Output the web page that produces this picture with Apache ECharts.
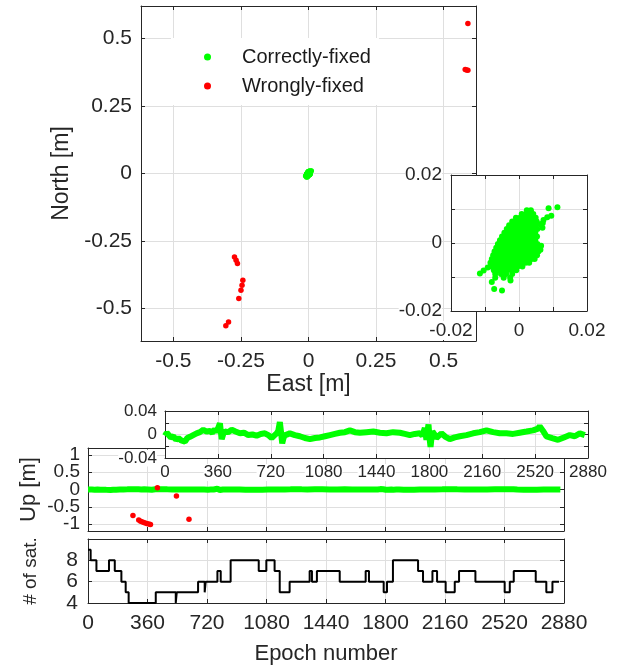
<!DOCTYPE html>
<html>
<head>
<meta charset="utf-8">
<script src="https://cdn.jsdelivr.net/npm/echarts@6/dist/echarts.min.js"></script>
<style>
  html, body { margin: 0; padding: 0; background: #fff; }
  #chart { width: 627px; height: 671px; }
</style>
</head>
<body>
<div id="chart"></div>
<script>
// East/North of correctly-fixed epochs, in millimetres
var greenEN_mm = [
  [2.3, 9.6], [3.5, 9.6],
  [0.8, 8.5], [2.1, 8.5], [3.4, 8.5], [4.2, 8.5],
  [-0.9, 7.4], [0.3, 7.4], [1.6, 7.4], [2.9, 7.4], [4.2, 7.4], [4.9, 7.4],
  [-2.0, 6.3], [-0.7, 6.3], [0.6, 6.3], [1.9, 6.3], [3.2, 6.3], [4.5, 6.3], [5.2, 6.3],
  [-2.9, 5.2], [-1.6, 5.2], [-0.3, 5.2], [1.0, 5.2], [2.3, 5.2], [3.6, 5.2], [4.9, 5.2],
  [-3.6, 4.1], [-2.3, 4.1], [-1.0, 4.1], [0.3, 4.1], [1.6, 4.1], [2.9, 4.1], [4.2, 4.1], [5.4, 4.1],
  [-4.3, 3.0], [-3.0, 3.0], [-1.7, 3.0], [-0.4, 3.0], [0.9, 3.0], [2.2, 3.0], [3.5, 3.0], [4.8, 3.0],
  [-5.0, 1.9], [-3.7, 1.9], [-2.4, 1.9], [-1.1, 1.9], [0.2, 1.9], [1.5, 1.9], [2.8, 1.9], [4.1, 1.9], [5.3, 1.9],
  [-5.6, 0.8], [-4.3, 0.8], [-3.0, 0.8], [-1.7, 0.8], [-0.4, 0.8], [0.9, 0.8], [2.2, 0.8], [3.5, 0.8], [4.8, 0.8],
  [-6.2, -0.3], [-4.9, -0.3], [-3.6, -0.3], [-2.3, -0.3], [-1.0, -0.3], [0.3, -0.3], [1.6, -0.3], [2.9, -0.3], [4.2, -0.3], [5.4, -0.3],
  [-6.7, -1.4], [-5.4, -1.4], [-4.1, -1.4], [-2.8, -1.4], [-1.5, -1.4], [-0.2, -1.4], [1.1, -1.4], [2.4, -1.4], [3.7, -1.4], [5.0, -1.4], [6.1, -1.4],
  [-7.2, -2.5], [-5.9, -2.5], [-4.6, -2.5], [-3.3, -2.5], [-2.0, -2.5], [-0.7, -2.5], [0.6, -2.5], [1.9, -2.5], [3.2, -2.5], [4.5, -2.5], [5.7, -2.5],
  [-7.6, -3.6], [-6.3, -3.6], [-5.0, -3.6], [-3.7, -3.6], [-2.4, -3.6], [-1.1, -3.6], [0.2, -3.6], [1.5, -3.6], [2.8, -3.6], [4.1, -3.6], [5.3, -3.6],
  [-8.0, -4.7], [-6.7, -4.7], [-5.4, -4.7], [-4.1, -4.7], [-2.8, -4.7], [-1.5, -4.7], [-0.2, -4.7], [1.1, -4.7], [2.4, -4.7], [3.7, -4.7], [4.6, -4.7],
  [-8.4, -5.8], [-7.1, -5.8], [-5.8, -5.8], [-4.5, -5.8], [-3.2, -5.8], [-1.9, -5.8], [-0.6, -5.8], [0.7, -5.8], [2.0, -5.8], [3.0, -5.8],
  [-8.2, -6.9], [-6.9, -6.9], [-5.6, -6.9], [-4.3, -6.9], [-3.0, -6.9], [-1.7, -6.9], [-0.4, -6.9], [1.0, -6.9],
  [-7.4, -8.0], [-6.1, -8.0], [-4.8, -8.0], [-3.5, -8.0], [-2.2, -8.0], [-0.8, -8.0],
  [-7.0, -9.1], [-5.3, -9.1], [-3.8, -9.1], [-2.0, -9.1],
  [-7.0, -10.2], [-4.5, -10.2], [-2.6, -10.2],
  [-8.0, -11.5], [-7.3, -13.5], [-5.0, -14.0], [-11.5, -9.0], [-10.4, -8.1], [-9.2, -7.2], [-2.5, -11.0],
  [8.7, 10.2], [11.3, 10.5], [9.5, 8.0], [8.3, 7.6], [7.2, 6.8], [7.0, 5.9], [6.9, 4.5], [6.2, 5.5], [6.3, -2.0], [6.5, -0.8]
];

// wrongly-fixed positions [m]
var redEast = [0.590, 0.580, 0.585, 0.590, -0.274, -0.268, -0.263, -0.243, -0.246, -0.250, -0.258, -0.296, -0.306];
var redNorth = [0.555, 0.385, 0.383, 0.382, -0.309, -0.321, -0.333, -0.395, -0.414, -0.432, -0.463, -0.550, -0.564];

// Up component of correctly-fixed epochs [m]
var upEpoch = [0, 12, 23, 40, 57, 75, 91, 110, 136, 152, 170, 192, 215, 238, 261, 283, 306, 322, 340, 352,
  363, 374, 386, 397, 408, 430, 454, 480, 510, 538, 567, 595, 624, 652, 680, 703, 726, 743, 760, 771,
  782, 790, 798, 807, 816, 832, 850, 884, 918, 952, 987, 1021, 1055, 1089, 1123, 1157, 1191, 1225, 1259, 1293,
  1327, 1372, 1418, 1463, 1508, 1553, 1599, 1633, 1667, 1701, 1735, 1752, 1769, 1780, 1787, 1794, 1801, 1808, 1815, 1821,
  1835, 1848, 1865, 1882, 1910, 1939, 1973, 2007, 2052, 2098, 2143, 2189, 2234, 2279, 2325, 2370, 2415, 2461, 2506, 2540,
  2551, 2574, 2597, 2636, 2676, 2716, 2756, 2790, 2824, 2858];
var upValue = [-0.002, 0.003, 0.001, -0.005, -0.003, -0.009, -0.006, -0.010, -0.012, -0.006, -0.004, -0.001, 0.002, 0.004, 0.008, 0.005, 0.006, 0.003, 0.009, 0.004,
  0.002, 0.019, -0.008, 0.001, 0.005, 0.004, 0.008, 0.005, 0.002, 0.003, -0.001, 0.000, -0.002, 0.001, 0.002, -0.001, -0.006, -0.002, 0.002, 0.006,
  0.021, 0.004, -0.015, -0.006, -0.001, 0.000, 0.002, -0.001, -0.003, -0.006, -0.008, -0.006, -0.005, -0.003, -0.001, 0.001, 0.003, 0.004, 0.007, 0.004,
  0.003, 0.004, 0.005, 0.003, 0.002, 0.004, 0.003, 0.001, -0.001, 0.001, 0.002, -0.002, 0.011, -0.009, 0.006, 0.017, -0.006, -0.021, -0.004, 0.005,
  0.000, -0.006, -0.002, 0.002, -0.004, -0.008, -0.005, -0.003, -0.001, 0.002, 0.004, 0.007, 0.004, 0.002, 0.002, 0.001, 0.003, 0.005, 0.007, 0.010,
  0.014, 0.006, -0.003, -0.006, -0.009, -0.005, -0.001, -0.003, 0.002, -0.001];

// Up component of wrongly-fixed epochs [m]
var redEpoch = [272, 307, 318, 330, 342, 355, 368, 378, 420, 535, 611];
var redUp = [-0.75, -0.88, -0.92, -0.94, -0.96, -0.98, -1.00, -1.01, 0.05, -0.19, -0.86];

// number of satellites, value holds from the epoch until the next change
var satEpoch = [0, 16, 51, 127, 162, 202, 228, 246, 410, 531, 537, 666, 706, 712, 783, 803, 863, 1033, 1079, 1129,
  1160, 1220, 1341, 1355, 1385, 1523, 1680, 1700, 1789, 1809, 1845, 1997, 2027, 2084, 2112, 2164, 2219, 2245, 2344, 2521,
  2552, 2576, 2709, 2773, 2810, 2850];
var satCount = [9, 8, 7, 8, 7, 6, 5, 4, 5, 4, 5, 6, 5, 6, 7, 6, 8, 7, 8, 7,
  5, 6, 7, 6, 7, 6, 7, 6, 5, 6, 8, 7, 6, 7, 6, 5, 6, 7, 6, 5,
  6, 7, 6, 5, 6, 6];

var enTicks = [-0.5, -0.25, 0, 0.25, 0.5];
var upTicks = [-1, -0.5, 0, 0.5, 1];
var upTicksWhole = [-1, 0, 1];
var upTicksHalf = [-0.5, 0.5];

var FONT = '"Liberation Sans", Arial, Helvetica, sans-serif';
var AX = '#262626';
var GRIDC = '#dfdfdf';

function zip(a, b) {
  return a.map(function (v, i) { return [v, b[i]]; });
}

function plain(v) { return String(+v.toFixed(6)); }

function makeAxis(grid, pos, range, o) {
  var primary = pos === 'bottom' || pos === 'left';
  var ax = {
    type: 'value', gridIndex: grid, position: pos,
    min: range[0], max: range[1], z: o.z || 0,
    axisLine: { show: true, onZero: false, lineStyle: { color: AX, width: 1 } },
    axisTick: { show: true, inside: true, length: 4, lineStyle: { color: AX, width: 1 } },
    axisLabel: {
      show: primary && !o.noLabel, color: AX, fontFamily: FONT,
      fontSize: o.fontSize || 20, margin: o.margin || 9,
      showMinLabel: true, showMaxLabel: true, hideOverlap: false,
      formatter: o.formatter || plain
    },
    splitLine: { show: primary, lineStyle: { color: GRIDC, width: 1 } }
  };
  if (o.interval) ax.interval = o.interval;
  if (o.ticks) {
    ax.axisTick.customValues = o.ticks;
    ax.axisLabel.customValues = o.labels || o.ticks;
  }
  if (o.labelBg) { ax.axisLabel.backgroundColor = '#fff'; }
  if (primary && o.name) {
    ax.name = o.name;
    ax.nameLocation = 'middle';
    ax.nameGap = o.nameGap;
    ax.nameTextStyle = { color: AX, fontFamily: FONT, fontSize: o.nameSize };
  }
  return ax;
}

function only(vals) {
  return function (v) {
    for (var i = 0; i < vals.length; i++) {
      if (Math.abs(v - vals[i]) < 1e-9) return String(vals[i]);
    }
    return '';
  };
}

var xAxes = [], yAxes = [];
function box(grid, xr, yr, xo, yo) {
  xAxes.push(makeAxis(grid, 'bottom', xr, xo), makeAxis(grid, 'top', xr, xo));
  yAxes.push(makeAxis(grid, 'left', yr, yo), makeAxis(grid, 'right', yr, yo));
}

// 0: East/North
box(0, [-0.62, 0.62], [-0.62, 0.62],
  { ticks: enTicks, fontSize: 21, margin: 10, name: 'East [m]', nameGap: 30, nameSize: 23 },
  { ticks: enTicks, fontSize: 21, margin: 9, name: 'North [m]', nameGap: 66, nameSize: 23 });
// 1: East/North zoom
box(1, [-0.02, 0.02], [-0.02, 0.02],
  { interval: 0.01, fontSize: 19, margin: 10, z: 11, labelBg: true, formatter: only([-0.02, 0, 0.02]) },
  { interval: 0.01, fontSize: 19, margin: 9, z: 11, labelBg: true, formatter: only([-0.02, 0, 0.02]) });
// 2: Up
box(2, [0, 2880], [-1.2, 1.2],
  { interval: 360, noLabel: true },
  { ticks: upTicks, labels: upTicksWhole, fontSize: 19, margin: 8, name: 'Up [m]', nameGap: 48, nameSize: 22 });
// 3: Up zoom
box(3, [0, 2880], [-0.04, 0.04],
  { interval: 360, fontSize: 17, margin: 6, z: 11, labelBg: true },
  { interval: 0.02, fontSize: 17, margin: 8, z: 11, labelBg: true, formatter: only([-0.04, 0, 0.04]) });
// 4: number of satellites
box(4, [0, 2880], [4, 10],
  { interval: 360, fontSize: 21, margin: 10, name: 'Epoch number', nameGap: 40, nameSize: 22 },
  { interval: 2, fontSize: 21, margin: 10, formatter: only([4, 6, 8]), name: '# of sat.', nameGap: 48, nameSize: 19 });

// extra label-only axis for the half-metre Up labels (index 10)
var halfAxis = makeAxis(2, 'left', [-1.2, 1.2], { ticks: upTicksHalf, fontSize: 19, margin: 8 });
halfAxis.axisLine.show = false;
halfAxis.axisTick.show = false;
halfAxis.splitLine.show = false;
yAxes.push(halfAxis);

var greenM = greenEN_mm.map(function (p) { return [p[0] / 1000, p[1] / 1000]; });
var satData = zip(satEpoch, satCount);

var option = {
  animation: false,
  backgroundColor: '#fff',
  grid: [
    { left: 141, top: 6, width: 335, height: 335 },
    { left: 451, top: 175, width: 136, height: 136, show: true, backgroundColor: '#fff', borderWidth: 0, z: 10 },
    { left: 88, top: 448, width: 476, height: 83 },
    { left: 165, top: 411, width: 423, height: 47, show: true, backgroundColor: '#fff', borderWidth: 0, z: 10 },
    { left: 88, top: 539, width: 476, height: 64 }
  ],
  legend: {
    left: 171, top: 38, orient: 'vertical',
    backgroundColor: '#fff',
    padding: [9, 8, 9, 33],
    itemWidth: 7, itemHeight: 7, itemGap: 9,
    textStyle: { color: '#1a1a1a', fontFamily: FONT, fontSize: 20, padding: [0, 0, 0, 26] },
    data: ['Correctly-fixed', 'Wrongly-fixed']
  },
  xAxis: xAxes,
  yAxis: yAxes,
  series: [
    { name: 'Correctly-fixed', type: 'scatter', xAxisIndex: 0, yAxisIndex: 0, symbolSize: 5,
      itemStyle: { color: '#00ff00', opacity: 1 }, data: greenM },
    { name: 'Wrongly-fixed', type: 'scatter', xAxisIndex: 0, yAxisIndex: 0, symbolSize: 5.5,
      itemStyle: { color: '#ff0000', opacity: 1 }, data: zip(redEast, redNorth) },
    { name: 'inset-en', type: 'scatter', xAxisIndex: 2, yAxisIndex: 2, symbolSize: 6, z: 12,
      itemStyle: { color: '#00ff00', opacity: 1 }, data: greenM },
    { name: 'up', type: 'line', xAxisIndex: 4, yAxisIndex: 4, showSymbol: false,
      lineStyle: { color: '#00ff00', width: 6 }, data: zip(upEpoch, upValue) },
    { name: 'up-wrong', type: 'scatter', xAxisIndex: 4, yAxisIndex: 4, symbolSize: 5.5, z: 4,
      itemStyle: { color: '#ff0000', opacity: 1 }, data: zip(redEpoch, redUp) },
    { name: 'up-zoom', type: 'line', xAxisIndex: 6, yAxisIndex: 6, showSymbol: false, z: 12,
      lineStyle: { color: '#00ff00', width: 6 }, data: zip(upEpoch, upValue) },
    { name: 'sat', type: 'line', xAxisIndex: 8, yAxisIndex: 8, step: 'end', showSymbol: false,
      lineStyle: { color: '#000', width: 2 }, data: satData }
  ]
};

var chart = echarts.init(document.getElementById('chart'));
chart.setOption(option);
</script>
</body>
</html>
